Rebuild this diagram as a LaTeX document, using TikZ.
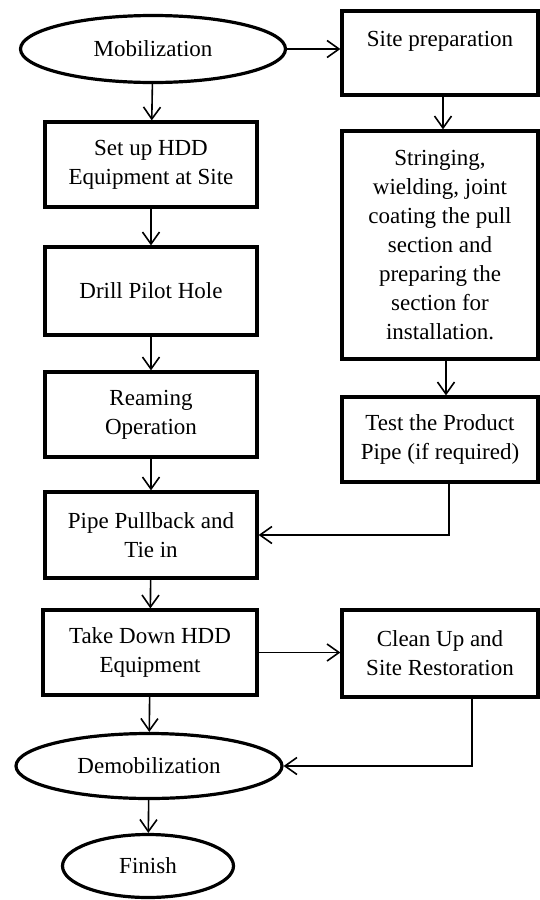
\documentclass[tikz,border=0pt]{standalone}
\usepackage{fontspec}
\setmainfont{Liberation Serif}
\usetikzlibrary{arrows.meta,shapes.geometric}
\begin{document}
\begin{tikzpicture}[x=1pt,y=-1pt,
  stepbox/.style={draw, line width=3.2pt, minimum width=212pt, minimum height=85pt, align=center, font=\fontsize{23}{29}\selectfont, inner sep=2pt},
  sidebox/.style={stepbox, minimum width=196pt},
  endcap/.style={draw, ellipse, line width=3.2pt, inner sep=0pt, font=\fontsize{23}{29}\selectfont},
  flow/.style={line width=1.6pt, -{Straight Barb[length=12pt,width=17pt,line width=1.6pt]}}]
\useasboundingbox (0,0) rectangle (540,900);
\node[endcap, minimum width=265pt, minimum height=67pt] (mob) at (153,49) {Mobilization};
\node[sidebox, minimum height=84pt] (prep) at (440,53) {Site preparation\\ \mbox{}};
\node[stepbox] (setup) at (151,164.5) {Set up HDD\\Equipment at Site};
\node[stepbox, minimum height=88pt] (drill) at (151,291) {Drill Pilot Hole};
\node[stepbox] (ream) at (151,414.5) {Reaming\\Operation};
\node[stepbox, minimum height=86pt] (pull) at (151,535) {Pipe Pullback and\\Tie in};
\node[stepbox, minimum width=214pt] (down) at (150,652.5) {Take Down HDD\\Equipment};
\node[endcap, minimum width=266pt, minimum height=65pt] (demob) at (149,766) {Demobilization};
\node[endcap, minimum width=171pt, minimum height=63pt] (finish) at (148,866) {Finish};
\node[sidebox, minimum height=228pt] (string) at (440,245) {Stringing,\\wielding, joint\\coating the pull\\section and\\preparing the\\section for\\installation.};
\node[sidebox] (test) at (440,439.5) {Test the Product\\Pipe (if required)};
\node[sidebox, minimum height=87pt] (clean) at (440,653.5) {Clean Up and\\Site Restoration};

\draw[flow] (mob.east) -- (mob.east -| prep.west);
\draw[flow] (mob) -- (setup);
\draw[flow] (setup) -- (drill);
\draw[flow] (drill) -- (ream);
\draw[flow] (ream) -- (pull);
\draw[flow] (pull) -- (down);
\draw[flow] (down) -- (demob);
\draw[flow] (demob) -- (finish);
\draw[flow] ([xshift=3pt]prep.south) -- ([xshift=3pt]prep.south |- string.north);
\draw[flow] ([xshift=6pt]string.south) -- ([xshift=6pt]string.south |- test.north);
\draw[flow] ([xshift=9pt]test.south) |- (pull.east);
\draw[flow] (down.east) -- (down.east -| clean.west);
\draw[flow] ([xshift=32pt]clean.south) |- (demob.east);
\end{tikzpicture}
\end{document}
